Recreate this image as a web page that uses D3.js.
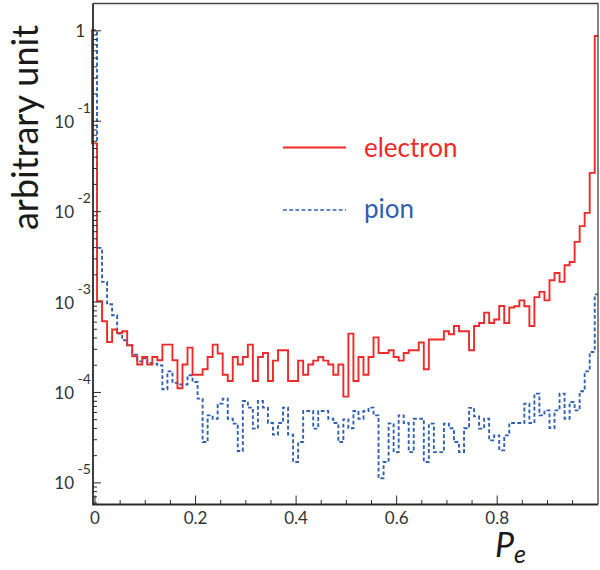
<!DOCTYPE html>
<html>
<head>
<meta charset="utf-8">
<script src="https://cdn.jsdelivr.net/npm/d3@7"></script>
<style>
  body { margin: 0; background: #fff; }
  svg { display: block; font-family: Lato, "Open Sans", sans-serif; }
</style>
</head>
<body>
<svg id="chart" width="600" height="570"></svg>
<script>
// Histogram binning: bins of width 0.01 centred on multiples of 0.01
const binWidth = 0.01;
const firstBinCenter = 0.0;

// Electron: one bin below zero (just left of the frame) plus bins 0.00 .. 1.00
const electronUnderflow = 1.0;
const electron = [
  0.0561, 1.01e-3, 6.05e-4, 3.57e-4, 4.90e-4, 4.49e-4, 4.69e-4, 3.28e-4, 2.48e-4, 2.01e-4,
  2.44e-4, 2.01e-4, 2.44e-4, 2.24e-4, 3.34e-4, 3.34e-4, 2.24e-4, 1.10e-4, 2.01e-4, 3.09e-4,
  1.55e-4, 1.55e-4, 1.78e-4, 2.44e-4, 3.34e-4, 2.66e-4, 1.55e-4, 1.32e-4, 2.44e-4, 2.01e-4,
  2.44e-4, 3.34e-4, 1.32e-4, 2.44e-4, 2.70e-4, 1.32e-4, 2.22e-4, 2.89e-4, 2.89e-4, 1.32e-4,
  1.32e-4, 2.22e-4, 1.55e-4, 2.01e-4, 2.22e-4, 2.44e-4, 2.22e-4, 2.01e-4, 1.55e-4, 2.01e-4,
  8.87e-5, 4.42e-4, 1.32e-4, 2.44e-4, 1.55e-4, 2.44e-4, 4.02e-4, 2.70e-4, 2.70e-4, 2.89e-4,
  2.44e-4, 2.22e-4, 2.70e-4, 2.89e-4, 2.89e-4, 3.52e-4, 1.78e-4, 3.80e-4, 3.80e-4, 3.80e-4,
  4.69e-4, 4.34e-4, 5.37e-4, 4.69e-4, 4.69e-4, 2.89e-4, 5.37e-4, 5.79e-4, 7.55e-4, 5.79e-4,
  6.32e-4, 8.94e-4, 5.79e-4, 8.58e-4, 8.87e-4, 1.03e-3, 8.87e-4, 5.37e-4, 1.12e-3, 1.28e-3,
  1.03e-3, 1.72e-3, 2.07e-3, 1.65e-3, 2.52e-3, 2.74e-3, 4.57e-3, 6.82e-3, 9.57e-3, 2.65e-2,
  0.865
];

// Pion: bins 0.00 .. 1.00
const pion = [
  1.0, 3.92e-3, 1.65e-3, 9.33e-4, 7.05e-4, 4.42e-4, 3.73e-4, 3.28e-4, 2.59e-4, 2.18e-4,
  2.36e-4, 2.09e-4, 2.06e-4, 1.97e-4, 1.07e-4, 1.69e-4, 1.26e-4, 1.21e-4, 1.21e-4, 1.53e-4,
  1.29e-4, 8.43e-5, 2.79e-5, 5.51e-5, 5.06e-5, 7.42e-5, 8.43e-5, 5.06e-5, 4.46e-5, 2.22e-5,
  7.93e-5, 6.71e-5, 3.93e-5, 7.93e-5, 6.71e-5, 4.53e-5, 3.37e-5, 4.53e-5, 6.71e-5, 3.37e-5,
  1.68e-5, 2.79e-5, 6.15e-5, 6.15e-5, 3.93e-5, 6.15e-5, 6.15e-5, 5.06e-5, 4.53e-5, 2.79e-5,
  4.98e-5, 3.96e-5, 6.15e-5, 5.04e-5, 6.15e-5, 6.71e-5, 5.51e-5, 1.11e-5, 1.68e-5, 4.49e-5,
  2.16e-5, 5.51e-5, 4.53e-5, 2.16e-5, 5.06e-5, 5.06e-5, 1.68e-5, 4.46e-5, 2.16e-5, 2.16e-5,
  4.46e-5, 3.96e-5, 2.79e-5, 2.16e-5, 3.96e-5, 6.67e-5, 5.37e-5, 3.93e-5, 5.06e-5, 2.91e-5,
  3.31e-5, 2.26e-5, 3.31e-5, 4.53e-5, 4.53e-5, 4.53e-5, 7.42e-5, 4.53e-5, 9.58e-5, 5.51e-5,
  6.26e-5, 3.99e-5, 6.26e-5, 9.58e-5, 5.06e-5, 7.73e-5, 6.26e-5, 1.02e-4, 1.69e-4, 2.77e-4,
  1.20e-3
];

const seriesNames = ["electron", "pion"];
const seriesColors = ["#ee2a2a", "#2f60b2"];
const xTickValues = [0, 0.2, 0.4, 0.6, 0.8];
const xTickLabels = ["0", "0.2", "0.4", "0.6", "0.8"];
const yDecades = [0, -1, -2, -3, -4, -5];
const yTitle = "arbitrary unit";

// Frame geometry
const frameL = 93, frameR = 598, frameT = 3.5, frameB = 504.5;

const x = d3.scaleLinear().domain([-0.003, 1.0015]).range([frameL, frameR]);
const y = d3.scaleLog().domain([5.69e-6, 1.98]).range([frameB, frameT]);

const svg = d3.select("#chart");
const ink = "#2a2a2a";

// Clip for the histogram outlines
svg.append("defs").append("clipPath").attr("id", "plotClip")
  .append("rect").attr("x", frameL - 2).attr("y", frameT)
  .attr("width", frameR - frameL + 2).attr("height", frameB - frameT);

// Step outline of a histogram: each value spans one bin
function stepPoints(values, center0) {
  const pts = values.map((v, i) => [center0 + (i - 0.5) * binWidth, v]);
  pts.push([center0 + (values.length - 0.5) * binWidth, values[values.length - 1]]);
  return pts;
}
const stepLine = d3.line().x(d => x(d[0])).y(d => y(d[1])).curve(d3.curveStepAfter);

const plot = svg.append("g").attr("clip-path", "url(#plotClip)");

plot.append("path")
  .attr("d", stepLine(stepPoints(pion, firstBinCenter)))
  .attr("fill", "none").attr("stroke", seriesColors[1])
  .attr("stroke-width", 1.9).attr("stroke-dasharray", "3.8,2.4");

plot.append("path")
  .attr("d", stepLine(stepPoints([electronUnderflow, ...electron], firstBinCenter - binWidth)))
  .attr("fill", "none").attr("stroke", seriesColors[0])
  .attr("stroke-width", 1.9);

// X axis: major and minor ticks pointing into the frame
const xMinor = d3.range(1, 20).filter(i => i % 4 !== 0).map(i => i * 0.05);
const xAxisMajor = d3.axisBottom(x).tickValues(xTickValues).tickSize(-9).tickSizeOuter(0)
  .tickPadding(7).tickFormat((d, i) => xTickLabels[i]);
const xAxisMinor = d3.axisBottom(x).tickValues(xMinor).tickSize(-4.5).tickSizeOuter(0).tickFormat("");

const gx = svg.append("g").attr("transform", `translate(0,${frameB})`).call(xAxisMajor);
const gxm = svg.append("g").attr("transform", `translate(0,${frameB})`).call(xAxisMinor);

// Y axis: decades and 2..9 minors pointing into the frame
const yMajor = yDecades.map(k => Math.pow(10, k));
const yMinor = [];
for (let k = -6; k <= 0; k++) {
  for (let m = 2; m <= 9; m++) {
    const v = m * Math.pow(10, k);
    if (v > y.domain()[0] && v < y.domain()[1]) yMinor.push(v);
  }
}
const gy = svg.append("g").attr("transform", `translate(${frameL},0)`)
  .call(d3.axisLeft(y).tickValues(yMajor).tickSize(-8).tickSizeOuter(0).tickFormat(""));
const gym = svg.append("g").attr("transform", `translate(${frameL},0)`)
  .call(d3.axisLeft(y).tickValues(yMinor).tickSize(-4).tickSizeOuter(0).tickFormat(""));

[gx, gxm, gy, gym].forEach(g => {
  g.attr("font-family", null).attr("font-size", null);
  g.select(".domain").remove();
  g.selectAll(".tick line").attr("stroke", ink).attr("stroke-width", 1);
});
gx.selectAll(".tick text").attr("fill", "#333").style("font-size", "17px");

// Y tick labels: "1" and 10 with a raised exponent
const yLab = svg.append("g").attr("fill", "#333");
yDecades.forEach(k => {
  const yy = y(Math.pow(10, k));
  if (k === 0) {
    yLab.append("text").attr("x", 85).attr("y", yy + 7).attr("text-anchor", "end")
      .style("font-size", "17px").text("1");
  } else {
    yLab.append("text").attr("x", 74).attr("y", yy + 7).attr("text-anchor", "end")
      .style("font-size", "17px").text("10");
    yLab.append("text").attr("x", 77.5).attr("y", yy - 8).attr("text-anchor", "start")
      .style("font-size", "14px").text("-" + (-k));
  }
});

// Frame
svg.append("path")
  .attr("d", `M${frameL},${frameT}H${frameR}V${frameB}`)
  .attr("fill", "none").attr("stroke", "#444").attr("stroke-width", 1.3);
svg.append("path")
  .attr("d", `M${frameL},${frameT}V${frameB}H${frameR}`)
  .attr("fill", "none").attr("stroke", ink).attr("stroke-width", 1.8);

// Axis titles
svg.append("text")
  .attr("transform", "translate(38,127.5) rotate(-90)")
  .attr("text-anchor", "middle").attr("fill", "#1a1a1a")
  .style("font-size", "36px").text(yTitle);

const xt = svg.append("text").attr("x", 495).attr("y", 557).attr("fill", "#1a1a1a")
  .style("font-style", "italic").style("font-size", "34px");
xt.append("tspan").text("P");
xt.append("tspan").attr("dy", 6).style("font-size", "25px").text("e");

// Legend
const legendRows = [{ y: 147.5, base: 156.5 }, { y: 210, base: 218 }];
seriesNames.forEach((name, i) => {
  const row = legendRows[i];
  svg.append("line").attr("x1", 283).attr("x2", 346).attr("y1", row.y).attr("y2", row.y)
    .attr("stroke", seriesColors[i]).attr("stroke-width", i === 0 ? 1.9 : 1.7)
    .attr("stroke-dasharray", i === 0 ? null : "3.8,2.4");
  svg.append("text").attr("x", 364).attr("y", row.base).attr("fill", seriesColors[i])
    .style("font-size", "26px").text(name);
});
</script>
</body>
</html>
